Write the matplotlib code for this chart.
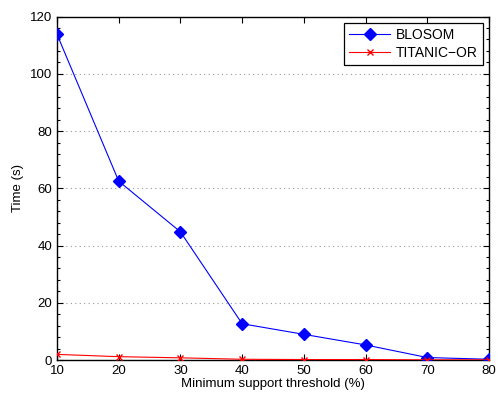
import matplotlib
matplotlib.use("Agg")
import matplotlib.pyplot as plt
from matplotlib.ticker import MultipleLocator

plt.rcParams['font.family'] = ['Liberation Sans', 'DejaVu Sans']

# data
support = [10, 20, 30, 40, 50, 60, 70, 80]
blosom = [113.8, 62.5, 44.8, 12.7, 9.0, 5.3, 0.9, 0.3]
titanic = [2.0, 1.2, 0.8, 0.3, 0.2, 0.2, 0.1, 0.1]

fig = plt.figure(figsize=(5, 3.94), dpi=100)
ax = fig.add_axes([0.114, 0.086, 0.864, 0.872])

ax.plot(support, blosom, color='blue', marker='D', markersize=6, linewidth=0.8,
        label='BLOSOM', zorder=3)
ax.plot(support, titanic, color='red', marker='x', markersize=5, linewidth=0.8,
        label='TITANIC\u2212OR', zorder=3)

ax.set_xlim(10, 80)
ax.set_ylim(0, 120)
ax.set_xticks(support)
ax.set_yticks(range(0, 121, 20))
ax.yaxis.set_minor_locator(MultipleLocator(4))

# matlab-like box with ticks inside on all sides
ax.tick_params(which='both', direction='in', top=True, right=True, labelsize=9.5,
               width=0.8)
ax.tick_params(which='major', length=4)
ax.tick_params(which='minor', length=2.5)
for s in ax.spines.values():
    s.set_linewidth(1)

ax.grid(axis='y', which='major', linestyle=(0, (1, 3)), color='#999999', linewidth=0.8)

ax.set_xlabel('Minimum support threshold (%)', fontsize=9.5, labelpad=1)
ax.set_ylabel('Time (s)', fontsize=9.5, labelpad=4)

leg = ax.legend(loc='upper right', fontsize=10, fancybox=False, edgecolor='black',
                framealpha=1, handlelength=3.0, handletextpad=0.4,
                borderaxespad=0.45, borderpad=0.35, labelspacing=0.3)
leg.get_frame().set_linewidth(0.9)

fig.savefig('out.png', dpi=100)
